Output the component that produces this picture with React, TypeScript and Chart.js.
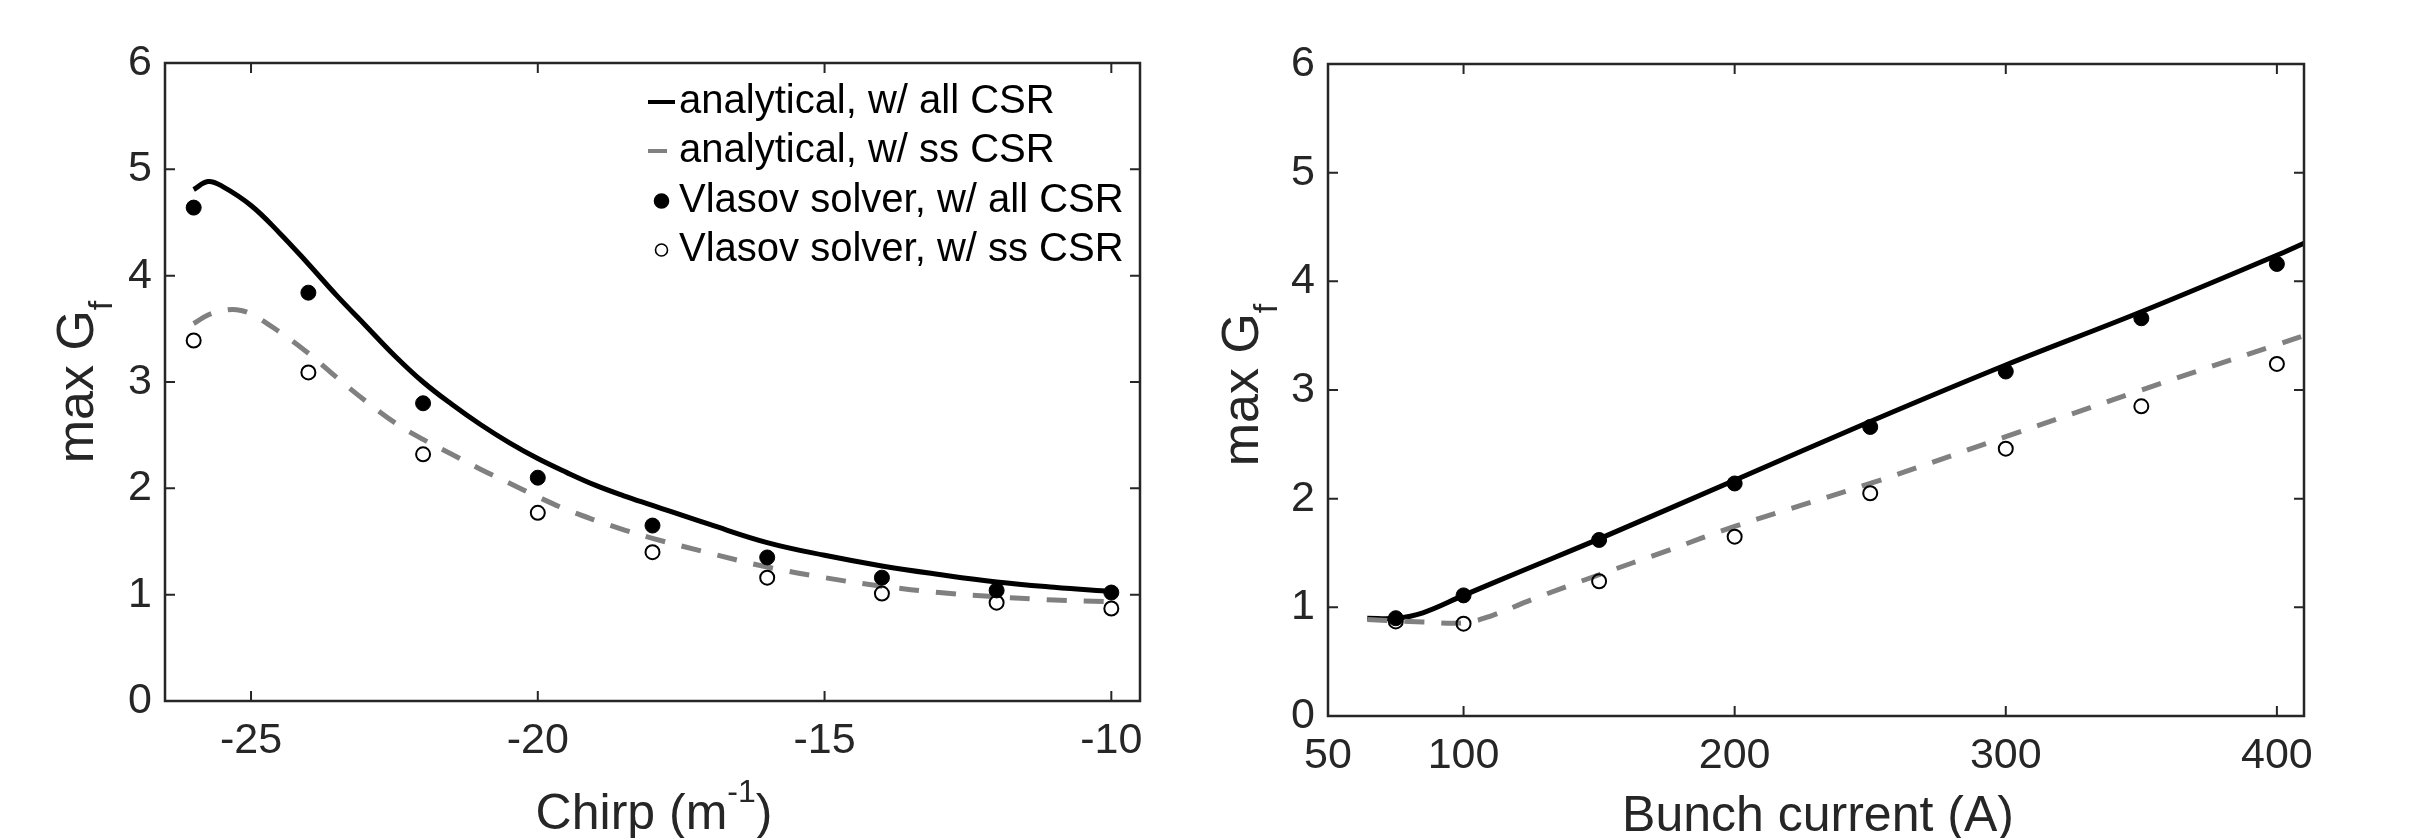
import { useEffect, useRef } from "react"
import { Chart, registerables } from "chart.js"

Chart.register(...registerables)

const FONT = "'Liberation Sans', Arial, Helvetica, sans-serif"
const AXIS_COLOR = "#262626"
const SS_GRAY = "#808080"

// ---- left panel: max G_f vs chirp ----
const chirpCurveAll = [-26, -25.75, -25.5, -25, -24.5, -24, -23.5, -23, -22.5, -22, -21.5, -21, -20.5, -20, -19.5, -19, -18.5, -18, -17, -16, -15, -14, -13, -12, -11, -10]
const gainCurveAll = [4.81, 4.885, 4.84, 4.66, 4.4, 4.11, 3.81, 3.53, 3.25, 3.0, 2.79, 2.6, 2.43, 2.28, 2.15, 2.03, 1.93, 1.84, 1.66, 1.49, 1.37, 1.27, 1.19, 1.12, 1.07, 1.03]
const chirpCurveSs = [-26, -25.75, -25.5, -25.25, -25, -24.5, -24, -23.5, -23, -22.5, -22, -21.5, -21, -20.5, -20, -19.5, -19, -18.5, -18, -17, -16, -15, -14, -13, -12, -11, -10]
const gainCurveSs = [3.55, 3.63, 3.67, 3.68, 3.64, 3.47, 3.27, 3.04, 2.82, 2.62, 2.46, 2.32, 2.18, 2.05, 1.92, 1.8, 1.7, 1.61, 1.53, 1.39, 1.26, 1.16, 1.08, 1.02, 0.98, 0.95, 0.935]
const chirpPoints = [-26, -24, -22, -20, -18, -16, -14, -12, -10]
const vlasovChirpAll = [4.64, 3.84, 2.8, 2.1, 1.65, 1.35, 1.16, 1.04, 1.02]
const vlasovChirpSs = [3.39, 3.09, 2.32, 1.77, 1.4, 1.16, 1.01, 0.925, 0.87]
const chirpTicks = [-25, -20, -15, -10]

// ---- right panel: max G_f vs bunch current ----
const currentCurveAll = [64.5, 75, 85, 100, 121, 150, 200, 250, 300, 350, 400, 410]
const gainCurrentAll = [0.9, 0.9, 0.95, 1.11, 1.33, 1.63, 2.17, 2.71, 3.23, 3.72, 4.24, 4.35]
const currentCurveSs = [64.5, 75, 85, 100, 110, 125, 150, 175, 200, 250, 300, 350, 400, 410]
const gainCurrentSs = [0.887, 0.875, 0.866, 0.857, 0.92, 1.07, 1.3, 1.52, 1.745, 2.14, 2.57, 3.0, 3.417, 3.5]
const currentPoints = [75, 100, 150, 200, 250, 300, 350, 400]
const vlasovCurrentAll = [0.9, 1.11, 1.62, 2.14, 2.66, 3.17, 3.66, 4.16]
const vlasovCurrentSs = [0.87, 0.85, 1.24, 1.65, 2.05, 2.46, 2.85, 3.24]
const currentTicks = [50, 100, 200, 300, 400]

const gainTicks = [0, 1, 2, 3, 4, 5, 6]
const seriesLabels = [
  "analytical, w/ all CSR",
  "analytical, w/ ss CSR",
  "Vlasov solver, w/ all CSR",
  "Vlasov solver, w/ ss CSR",
]

type Part = { text: string; size: number; shift: number }

// draws text made of pieces (for super/subscripts), centred on x
function drawParts(ctx: CanvasRenderingContext2D, parts: Part[], x: number, y: number) {
  let total = 0
  for (const p of parts) {
    ctx.font = `${p.size}px ${FONT}`
    total += ctx.measureText(p.text).width
  }
  let cx = x - total / 2
  ctx.textAlign = "left"
  ctx.textBaseline = "alphabetic"
  for (const p of parts) {
    ctx.font = `${p.size}px ${FONT}`
    ctx.fillText(p.text, cx, y + p.shift)
    cx += ctx.measureText(p.text).width
  }
}

const framePlugin = {
  id: "frame",
  afterDatasetsDraw(chart: any, _args: any, opts: any) {
    const { ctx, chartArea: a, scales } = chart
    ctx.save()
    ctx.strokeStyle = AXIS_COLOR
    ctx.lineWidth = 2.5
    ctx.strokeRect(a.left, a.top, a.right - a.left, a.bottom - a.top)

    // inward ticks on all four sides
    const len = 10
    ctx.lineWidth = 2
    ctx.beginPath()
    for (const t of scales.x.ticks) {
      const px = scales.x.getPixelForValue(t.value)
      ctx.moveTo(px, a.bottom)
      ctx.lineTo(px, a.bottom - len)
      ctx.moveTo(px, a.top)
      ctx.lineTo(px, a.top + len)
    }
    for (const t of scales.y.ticks) {
      const py = scales.y.getPixelForValue(t.value)
      ctx.moveTo(a.left, py)
      ctx.lineTo(a.left + len, py)
      ctx.moveTo(a.right, py)
      ctx.lineTo(a.right - len, py)
    }
    ctx.stroke()

    // axis titles
    ctx.fillStyle = AXIS_COLOR
    drawParts(ctx, opts.xTitle, opts.xTitleX, opts.xTitleY)
    ctx.save()
    ctx.translate(opts.yTitleX, opts.yTitleY)
    ctx.rotate(-Math.PI / 2)
    drawParts(ctx, opts.yTitle, 0, 0)
    ctx.restore()

    // legend in the upper right corner
    const lg = opts.legend
    if (lg) {
      const sets = chart.data.datasets
      lg.rows.forEach((y: number, i: number) => {
        const ds = sets[i]
        if (ds.showLine) {
          ctx.strokeStyle = ds.borderColor
          ctx.lineWidth = 4
          ctx.beginPath()
          ctx.moveTo(lg.lineStart, y)
          ctx.lineTo(lg.lineEnds[i], y)
          ctx.stroke()
        } else {
          ctx.beginPath()
          ctx.arc(lg.markerX, y, lg.markerR[i], 0, Math.PI * 2)
          if (ds.pointBackgroundColor !== "rgba(0,0,0,0)") {
            ctx.fillStyle = ds.pointBackgroundColor
            ctx.fill()
          }
          ctx.strokeStyle = ds.pointBorderColor
          ctx.lineWidth = 1.6
          ctx.stroke()
        }
        ctx.fillStyle = "#000"
        ctx.font = `${lg.size}px ${FONT}`
        ctx.textAlign = "left"
        ctx.textBaseline = "middle"
        ctx.fillText(ds.label, lg.textX, y)
      })
    }
    ctx.restore()
  },
}

type PanelSpec = {
  width: number
  height: number
  area: { left: number; top: number; right: number; bottom: number }
  xMin: number
  xMax: number
  xTicks: number[]
  curveAllX: number[]
  curveAllY: number[]
  curveSsX: number[]
  curveSsY: number[]
  pointsX: number[]
  pointsAll: number[]
  pointsSs: number[]
  frame: any
}

const pairs = (xs: number[], ys: number[]) => xs.map((x, i) => ({ x, y: ys[i] }))

function makeConfig(p: PanelSpec): any {
  const tickFont = { family: FONT, size: 43 }
  return {
    type: "scatter",
    data: {
      datasets: [
        {
          label: seriesLabels[0],
          data: pairs(p.curveAllX, p.curveAllY),
          showLine: true,
          borderColor: "#000",
          borderWidth: 5,
          pointRadius: 0,
          tension: 0.4,
          order: 4,
        },
        {
          label: seriesLabels[1],
          data: pairs(p.curveSsX, p.curveSsY),
          showLine: true,
          borderColor: SS_GRAY,
          borderWidth: 5,
          borderDash: [20, 17],
          borderCapStyle: "butt",
          pointRadius: 0,
          tension: 0.4,
          order: 3,
        },
        {
          label: seriesLabels[2],
          data: pairs(p.pointsX, p.pointsAll),
          showLine: false,
          pointRadius: 7.5,
          pointBackgroundColor: "#000",
          pointBorderColor: "#000",
          pointBorderWidth: 1,
          order: 2,
        },
        {
          label: seriesLabels[3],
          data: pairs(p.pointsX, p.pointsSs),
          showLine: false,
          pointRadius: 7,
          pointBackgroundColor: "rgba(0,0,0,0)",
          pointBorderColor: "#000",
          pointBorderWidth: 2,
          order: 1,
        },
      ],
    },
    options: {
      animation: false,
      responsive: false,
      events: [],
      layout: {
        padding: {
          left: 0,
          top: p.area.top,
          right: p.width - p.area.right,
          bottom: 0,
        },
      },
      scales: {
        x: {
          type: "linear",
          min: p.xMin,
          max: p.xMax,
          grid: { display: false, drawTicks: false },
          border: { display: false },
          ticks: { font: tickFont, color: AXIS_COLOR, padding: 14, maxRotation: 0, callback: (v: number) => String(v) },
          afterBuildTicks: (s: any) => {
            s.ticks = p.xTicks.map((v) => ({ value: v }))
          },
          afterFit: (s: any) => {
            s.height = p.height - p.area.bottom
          },
        },
        y: {
          type: "linear",
          min: 0,
          max: 6,
          grid: { display: false, drawTicks: false },
          border: { display: false },
          ticks: { font: tickFont, color: AXIS_COLOR, padding: 13, callback: (v: number) => String(v) },
          afterBuildTicks: (s: any) => {
            s.ticks = gainTicks.map((v) => ({ value: v }))
          },
          afterFit: (s: any) => {
            s.width = p.area.left
          },
        },
      },
      plugins: {
        legend: { display: false },
        tooltip: { enabled: false },
        frame: p.frame,
      },
    },
    plugins: [framePlugin],
  }
}

const LEFT_W = 1200
const RIGHT_W = 1225
const H = 838

const yTitleParts: Part[] = [
  { text: "max G", size: 52, shift: 0.5 },
  { text: "f", size: 34, shift: 20 },
]

export default function App() {
  const leftRef = useRef<HTMLCanvasElement>(null)
  const rightRef = useRef<HTMLCanvasElement>(null)

  useEffect(() => {
    if (!leftRef.current || !rightRef.current) return

    const leftChart = new Chart(
      leftRef.current,
      makeConfig({
        width: LEFT_W,
        height: H,
        area: { left: 165, top: 63, right: 1140, bottom: 701 },
        xMin: -26.5,
        xMax: -9.5,
        xTicks: chirpTicks,
        curveAllX: chirpCurveAll,
        curveAllY: gainCurveAll,
        curveSsX: chirpCurveSs,
        curveSsY: gainCurveSs,
        pointsX: chirpPoints,
        pointsAll: vlasovChirpAll,
        pointsSs: vlasovChirpSs,
        frame: {
          xTitle: [
            { text: "Chirp (m", size: 50, shift: 0.5 },
            { text: "-1", size: 32, shift: -26 },
            { text: ")", size: 50, shift: 0.5 },
          ],
          xTitleX: 654,
          xTitleY: 828,
          yTitle: yTitleParts,
          yTitleX: 92,
          yTitleY: 382,
          legend: {
            rows: [102, 151, 201, 250],
            lineStart: 648,
            lineEnds: [675, 667],
            markerX: 661.5,
            markerR: [0, 0, 7, 6],
            textX: 679,
            size: 40,
          },
        },
      })
    )

    const rightChart = new Chart(
      rightRef.current,
      makeConfig({
        width: RIGHT_W,
        height: H,
        area: { left: 128, top: 64, right: 1104, bottom: 716 },
        xMin: 50,
        xMax: 410,
        xTicks: currentTicks,
        curveAllX: currentCurveAll,
        curveAllY: gainCurrentAll,
        curveSsX: currentCurveSs,
        curveSsY: gainCurrentSs,
        pointsX: currentPoints,
        pointsAll: vlasovCurrentAll,
        pointsSs: vlasovCurrentSs,
        frame: {
          xTitle: [{ text: "Bunch current (A)", size: 50, shift: 0.5 }],
          xTitleX: 618,
          xTitleY: 830,
          yTitle: yTitleParts,
          yTitleX: 57,
          yTitleY: 385,
        },
      })
    )

    return () => {
      leftChart.destroy()
      rightChart.destroy()
    }
  }, [])

  return (
    <div style={{ position: "absolute", left: 0, top: 0, width: LEFT_W + RIGHT_W, height: H, background: "#fff", overflow: "hidden" }}>
      <canvas ref={leftRef} width={LEFT_W} height={H} style={{ position: "absolute", left: 0, top: 0, width: LEFT_W, height: H }} />
      <canvas ref={rightRef} width={RIGHT_W} height={H} style={{ position: "absolute", left: LEFT_W, top: 0, width: RIGHT_W, height: H }} />
    </div>
  )
}
